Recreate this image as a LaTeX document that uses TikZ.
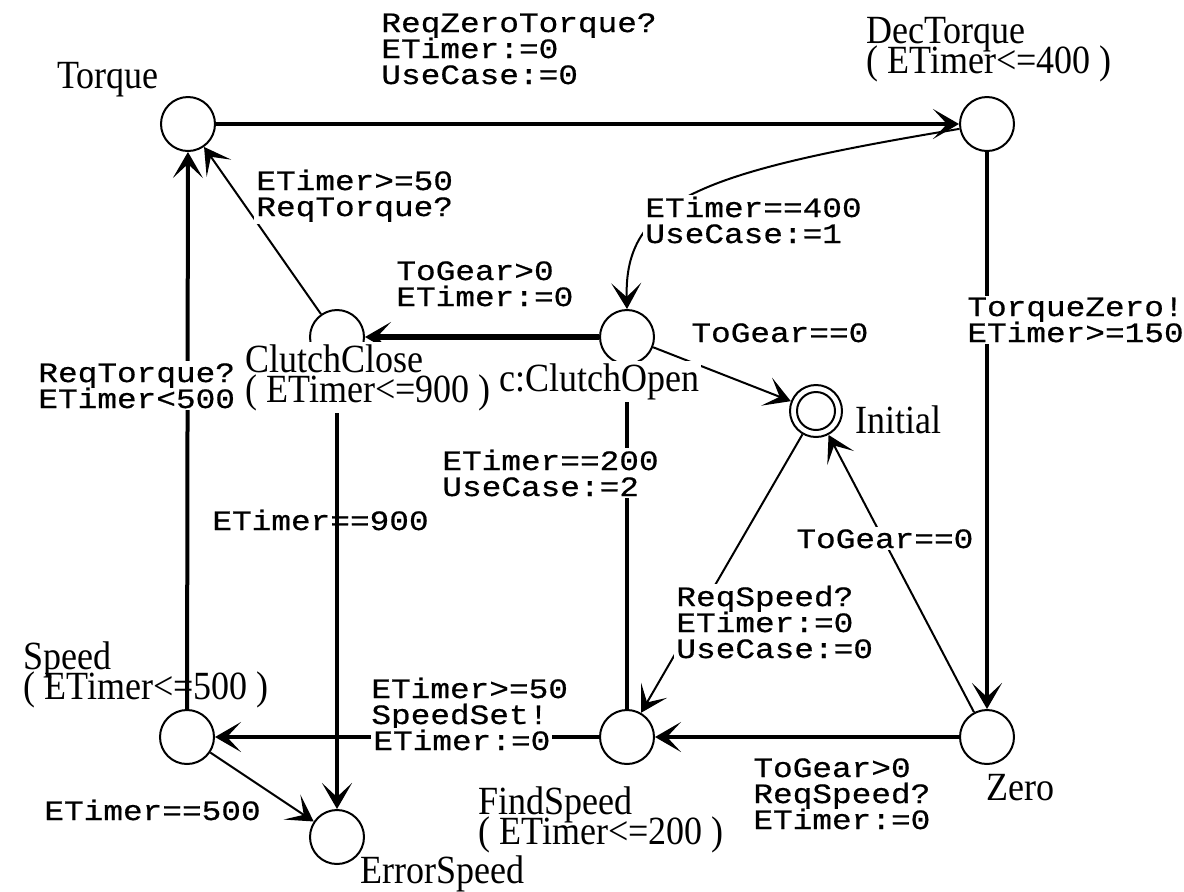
\documentclass[tikz,border=0pt]{standalone}
\usepackage{fontspec}
\setmainfont{Liberation Serif}
\newfontfamily\locfont[FakeStretch=0.9]{Liberation Serif}
\newfontfamily\guardfont[FakeStretch=1.17,FakeBold=0.6]{Liberation Mono}
\usetikzlibrary{arrows.meta}

% stack of left-aligned lines; baseline = first line's baseline
\newcommand\gstack[1]{\vtop{\lineskiplimit=-50pt\halign{##\hfil\cr#1\crcr}}}
% a single line on its own white backing
\newcommand\backed[1]{{\setlength\fboxsep{1pt}\colorbox{white}{#1}}}

\begin{document}
\begin{tikzpicture}[x=0.5pt,y=-0.5pt,
  loc/.style={circle, draw, line width=1pt, minimum size=27pt, inner sep=0pt},
  arrowtip/.style={-{Stealth[length=13pt,width=15pt,inset=7pt]}},
  heavy/.style={arrowtip, line width=2pt},
  heavier/.style={arrowtip, line width=3pt},
  light/.style={arrowtip, line width=1pt},
  guard/.style={anchor=base west, inner sep=1pt, fill=white,
    font=\guardfont\fontsize{14}{13}\selectfont},
  locname/.style={anchor=base west, inner sep=1pt,
    font=\locfont\fontsize{20}{15}\selectfont},
]
\fill[white] (0,0) rectangle (1184,891);
\useasboundingbox (0,0) rectangle (1184,891);

% locations
\node[loc] (torque)  at (188,124) {};
\node[loc] (dec)     at (987,124) {};
\node[loc] (cclose)  at (337,337) {};
\node[loc] (copen)   at (627,337) {};
\node[loc, minimum size=26pt] (init) at (816,411) {};
\draw[line width=1pt] (init.center) circle (9.5pt);
\node[loc] (speed)   at (187,737) {};
\node[loc] (find)    at (627,737) {};
\node[loc] (zero)    at (987,737) {};
\node[loc] (err)     at (337,837) {};

% transitions
\draw[heavy] (torque) -- (dec);
\draw[heavy] (dec) -- (zero);
\draw[heavy] (zero) -- (find);
\draw[heavy] (find) -- (speed);
\draw[heavy] (speed) -- (torque);
\draw[heavier] (copen) -- (cclose);
\draw[heavy] (cclose) -- (err);
\draw[heavy] (find) -- (copen);
\draw[light] (cclose) -- (torque);
\draw[light] (dec.190) .. controls (700,172) and (624,200) .. (copen.north);
\draw[light] (copen) -- (init);
\draw[light] (init) -- (find);
\draw[light] (zero) -- (init);
\draw[light] (speed) -- (err);

% guards, syncs and updates
\node[guard] (gTD) at (379,32) {\gstack{ReqZeroTorque?\cr ETimer:=0\cr UseCase:=0}};
\node[guard] (gDO) at (643,217) {\gstack{ETimer==400\cr UseCase:=1}};
\node[guard] (gCT) at (254,190) {\gstack{ETimer>=50\cr ReqTorque?}};
\node[guard] (gOC) at (394,280) {\gstack{ToGear>0\cr ETimer:=0}};
\node[guard] (gOI) at (689,342) {ToGear==0};
\node[guard] (gDZ) at (965,316) {\gstack{TorqueZero!\cr ETimer>=150}};
\node[guard] (gST) at (36,382) {\gstack{ReqTorque?\cr ETimer<500}};
\node[guard] (gFO) at (440,470) {\gstack{ETimer==200\cr UseCase:=2}};
\node[guard, fill=none] (gCE) at (210,530) {ETimer==900};
\node[guard] (gZI) at (794,548) {ToGear==0};
\node[guard] (gIF) at (674,606) {\gstack{ReqSpeed?\cr ETimer:=0\cr UseCase:=0}};
\node[guard, fill=none] (gFS) at (369,698) {\gstack{ETimer>=50\cr SpeedSet!\cr \backed{ETimer:=0}}};
\node[guard] (gZF) at (751,777) {\gstack{ToGear>0\cr ReqSpeed?\cr ETimer:=0}};
\node[guard] (gSE) at (42,820) {ETimer==500};

% location names and invariants
\node[locname] (nTorque) at (55,88) {Torque};
\node[locname] (nDec) at (864,43) {\gstack{DecTorque\cr ( ETimer<=400 )}};
\node[locname, fill=white] (nClose) at (243,372) {\gstack{ClutchClose\cr ( ETimer<=900 )}};
\node[locname, fill=white] (nOpen) at (497,391) {c:ClutchOpen};
\node[locname] (nInit) at (853,433) {Initial};
\node[locname] (nSpeed) at (21,669) {\gstack{Speed\cr ( ETimer<=500 )}};
\node[locname] (nFind) at (476,814) {\gstack{FindSpeed\cr ( ETimer<=200 )}};
\node[locname] (nZero) at (984,800) {Zero};
\node[locname] (nErr) at (358,883) {ErrorSpeed};
\end{tikzpicture}
\end{document}
